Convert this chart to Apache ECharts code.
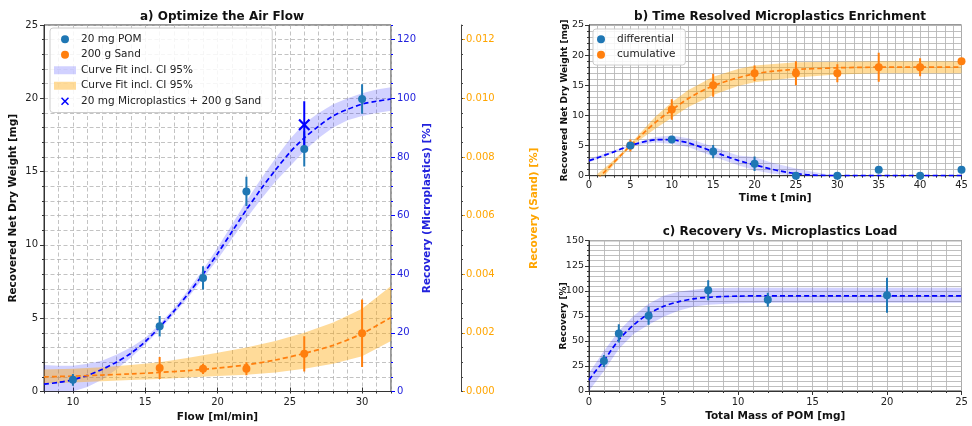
<!DOCTYPE html>
<html><head><meta charset="utf-8">
<script src="https://cdn.jsdelivr.net/npm/echarts@6/dist/echarts.min.js"></script>
<style>html,body{margin:0;padding:0;background:#fff}#c{width:972px;height:426px}</style>
</head><body><div id="c"></div>
<script>
// ---------- Panel a: Optimize the Air Flow ----------
const flowPOM = [10, 16, 19, 22, 26, 30];
const pomMass = [0.8, 4.45, 7.75, 13.65, 16.55, 19.95];
const pomErr = [0.4, 0.7, 0.8, 1.0, 1.2, 1.0];
const flowSand = [16, 19, 22, 26, 30];
const sandMass = [1.6, 1.55, 1.55, 2.57, 3.97];
const sandErr = [0.75, 0.35, 0.45, 1.2, 2.3];
const mixFlow = [26];
const mixMass = [18.2];
const mixErr = [1.6];
const pomFitX = [8,9,10,11,12,13,14,15,16,17,18,19,20,21,22,23,24,25,26,27,28,29,30,31,32];
const pomFit = [0.5,0.62,0.8,1.1,1.5,2.0,2.6,3.4,4.4,5.5,6.7,8.0,9.4,10.9,12.4,13.8,15.1,16.3,17.3,18.1,18.8,19.25,19.6,19.8,19.95];
const pomLo = [0,0,0,0.3,0.8,1.5,2.3,3.2,4.2,5.3,6.45,7.7,9.0,10.4,11.8,13.1,14.3,15.35,16.4,17.3,18.0,18.5,18.8,19.0,19.15];
const pomHi = [1.8,1.75,1.75,1.9,2.1,2.5,3.0,3.65,4.6,5.7,6.95,8.3,9.8,11.4,13.0,14.5,15.9,17.2,18.3,19.0,19.6,20.0,20.35,20.6,20.75];
const sandFitX = [8,10,12,14,16,18,20,22,24,26,28,30,32];
const sandFit = [1.0,1.05,1.12,1.2,1.3,1.43,1.6,1.82,2.15,2.6,3.15,3.95,5.05];
const sandLo = [0.55,0.62,0.7,0.78,0.86,0.95,1.05,1.15,1.3,1.55,1.9,2.4,3.45];
const sandHi = [1.5,1.55,1.65,1.8,2.0,2.3,2.65,3.0,3.45,4.0,4.7,5.65,7.2];
const flowTicks = [10, 15, 20, 25, 30];
const recMicroTicks = [0, 20, 40, 60, 80, 100, 120];
const recSandTicks = [0, 0.002, 0.004, 0.006, 0.008, 0.010, 0.012];

// ---------- Panel b: Time resolved enrichment ----------
const timeX = [5, 10, 15, 20, 25, 30, 35, 40, 45];
const diffVal = [5, 6, 4, 2, 0, 0, 1, 0, 1];
const diffErr = [0.3, 0.5, 1.1, 1.2, 0.2, 0.1, 0.2, 0.1, 0.2];
const cumVal = [5, 11, 15, 17, 17, 17, 18, 18, 19];
const cumErr = [1.0, 1.7, 1.9, 1.3, 2.0, 1.5, 2.4, 1.5, 0.5];
const diffFitX = [0,1,2,3,4,5,6,7,8,9,10,11,12,13,14,15,16,17,18,19,20,21,22,23,24,25,26,27,28,30,35,40,45];
const diffFit = [2.5,2.95,3.45,3.95,4.5,5.0,5.4,5.75,5.95,6.0,5.95,5.75,5.45,5.0,4.5,4.0,3.5,3.0,2.55,2.15,1.8,1.45,1.1,0.8,0.55,0.35,0.2,0.1,0.05,0,0,0,0];
const diffBandX = [0, 5, 8, 10, 12, 15, 18, 20, 22, 25, 28, 30];
const diffLo = [2.2, 4.85, 5.5, 5.25, 4.75, 3.2, 1.75, 0.9, 0.35, 0, 0, 0];
const diffHi = [2.8, 5.15, 6.4, 6.65, 6.2, 4.8, 3.35, 3.1, 2.2, 1.2, 0.4, 0.05];
const cumFitX = [1,2,3,4,5,6,7,8,9,10,11,12,13,14,15,16,17,18,19,20,22,24,26,28,30,35,40,45];
const cumFit = [-0.6,0.8,2.2,3.6,5.0,6.3,7.6,8.8,9.9,10.9,11.9,12.8,13.6,14.3,14.9,15.4,15.85,16.25,16.6,16.9,17.3,17.55,17.7,17.8,17.9,18.0,18.0,18.0];
const cumBandX = [1, 2, 3, 4, 5, 6, 8, 10, 12, 15, 18, 20, 25, 30, 35, 40, 45];
const cumLo = [-1.5, 0.2, 1.8, 3.3, 4.7, 5.8, 7.8, 9.6, 11.4, 13.4, 14.9, 15.5, 16.3, 16.8, 17.0, 17.0, 17.0];
const cumHi = [0.3, 1.4, 2.6, 3.9, 5.3, 6.8, 9.8, 12.2, 14.2, 16.4, 17.7, 18.3, 18.8, 18.9, 19.0, 19.0, 19.0];

// ---------- Panel c: Recovery vs load ----------
const massX = [1, 2, 4, 8, 12, 20];
const recVal = [30, 57.5, 75, 100.5, 91, 95.5];
const recErr = [6, 9, 9, 10, 7, 17.5];
const recFitX = [0,0.5,1,1.5,2,2.5,3,3.5,4,5,6,7,8,9,10,12,15,20,25];
const recFit = [11,21,30,41,51,59,66,72,77,84.5,89,92,93.5,94.3,94.7,95,95,95,95];
const recBandX = [0, 1, 2, 3, 4, 5, 6, 7, 8, 10, 12, 25];
const recLo = [0, 20, 42, 57, 66, 74, 80, 84, 86, 87.5, 88, 88];
const recHi = [18, 40, 60, 75, 87, 95, 99, 101, 102.5, 103, 103, 103];

const FONT = 'DejaVu Sans';
const C_POM = '#1f77b4', C_SAND = '#ff7f0e', C_BLUE = '#0000ff', C_ORANGE = '#ffa500';
const BAND_B = 'rgba(0,0,255,0.18)', BAND_O = 'rgba(255,165,0,0.4)';

function pairs(xs, ys) { return xs.map((x, i) => [x, ys[i]]); }
function band(name, xs, lo, hi, color, xi, yi) {
  return {
    name: name, type: 'custom', coordinateSystem: 'cartesian2d', xAxisIndex: xi, yAxisIndex: yi,
    clip: true, z: 1, silent: true, itemStyle: { color: color },
    data: xs.map((x, i) => [x, lo[i], hi[i]]), encode: { x: 0, y: [1, 2] },
    renderItem: function (p, api) {
      if (p.dataIndex !== 0) return null;
      const top = xs.map((x, i) => api.coord([x, hi[i]]));
      const bot = xs.map((x, i) => api.coord([x, lo[i]])).reverse();
      return { type: 'polygon', shape: { points: top.concat(bot) }, style: { fill: color } };
    }
  };
}
function errs(xs, ys, es, color, xi, yi, w) {
  return {
    type: 'custom', coordinateSystem: 'cartesian2d', xAxisIndex: xi, yAxisIndex: yi, clip: true, z: 3, silent: true,
    data: xs.map((x, i) => [x, ys[i], es[i]]), encode: { x: 0, y: 1 },
    renderItem: function (p, api) {
      const x = api.value(0), y = api.value(1), e = api.value(2);
      const a = api.coord([x, y - e]), b = api.coord([x, y + e]);
      return { type: 'line', shape: { x1: a[0], y1: a[1], x2: b[0], y2: b[1] }, style: { stroke: color, lineWidth: w } };
    }
  };
}
function fit(xs, ys, color, xi, yi) {
  return { type: 'line', xAxisIndex: xi, yAxisIndex: yi, data: pairs(xs, ys), showSymbol: false, smooth: 0.3,
    silent: true, z: 2, lineStyle: { color: color, width: 1.7, type: [5, 3] }, itemStyle: { color: color } };
}
function pts(name, xs, ys, color, xi, yi, sym, size) {
  return { name: name, type: 'scatter', xAxisIndex: xi, yAxisIndex: yi, data: pairs(xs, ys), symbol: sym || 'circle',
    symbolSize: size || 8, z: 4, silent: true, itemStyle: { color: color, opacity: 1 } };
}
const XPATH = 'path://M0,1.3 L1.3,0 L5,3.7 L8.7,0 L10,1.3 L6.3,5 L10,8.7 L8.7,10 L5,6.3 L1.3,10 L0,8.7 L3.7,5 Z';

const labelStyle = { fontFamily: FONT, fontSize: 10, color: '#222' };
const labelStyleSmall = { fontFamily: FONT, fontSize: 9.5, color: '#222' };
const nameStyle = { fontFamily: FONT, fontSize: 10.5, fontWeight: 'bold', color: '#111' };
const nameStyleSmall = { fontFamily: FONT, fontSize: 9, fontWeight: 'bold', color: '#111' };
const axisLineStyle = { show: true, lineStyle: { color: '#333', width: 1 } };
const dashGrid = { show: true, lineStyle: { color: '#b4b4b4', width: 0.8, type: [4, 2.5] } };
const solidGrid = { show: true, lineStyle: { color: '#b8b8b8', width: 0.9 } };

const option = {
  animation: false,
  textStyle: { fontFamily: FONT },
  title: [
    { text: 'a) Optimize the Air Flow', left: 217, top: 6, textAlign: 'center', textStyle: { fontFamily: FONT, fontSize: 12, fontWeight: 'bold', color: '#111' } },
    { text: 'b) Time Resolved Microplastics Enrichment', left: 775, top: 6, textAlign: 'center', textStyle: { fontFamily: FONT, fontSize: 12, fontWeight: 'bold', color: '#111' } },
    { text: 'c) Recovery Vs. Microplastics Load', left: 775, top: 221, textAlign: 'center', textStyle: { fontFamily: FONT, fontSize: 12, fontWeight: 'bold', color: '#111' } }
  ],
  legend: [
    { left: 50, top: 28, orient: 'vertical', itemWidth: 22, itemHeight: 8, itemGap: 3, padding: [5, 11, 5, 4],
      backgroundColor: 'rgba(255,255,255,0.85)', borderColor: '#cccccc', borderWidth: 1, borderRadius: 3,
      textStyle: { fontFamily: FONT, fontSize: 10.5, color: '#222', lineHeight: 12.5 },
      formatter: n => n.replace(/\u200b/g, ''), selectedMode: false,
      data: [
        { name: '20 mg POM', icon: 'circle', itemStyle: { color: C_POM } },
        { name: '200 g Sand', icon: 'circle', itemStyle: { color: C_SAND } },
        { name: 'Curve Fit incl. CI 95%', icon: 'rect', itemStyle: { color: BAND_B } },
        { name: 'Curve Fit incl. CI 95%\u200b', icon: 'rect', itemStyle: { color: BAND_O } },
        { name: '20 mg Microplastics + 200 g Sand', icon: XPATH, itemStyle: { color: C_BLUE } }
      ] },
    { left: 593, top: 29, orient: 'vertical', itemWidth: 22, itemHeight: 8, itemGap: 3, padding: [4, 10, 4, 4],
      backgroundColor: 'rgba(255,255,255,0.85)', borderColor: '#cccccc', borderWidth: 1, borderRadius: 3,
      textStyle: { fontFamily: FONT, fontSize: 10.5, color: '#222', lineHeight: 12.5 }, selectedMode: false,
      data: [
        { name: 'differential', icon: 'circle', itemStyle: { color: C_POM } },
        { name: 'cumulative', icon: 'circle', itemStyle: { color: C_SAND } }
      ] }
  ],
  grid: [
    { left: 44, top: 25, width: 347, height: 366.5, show: true, borderColor: '#333', borderWidth: 1, outerBoundsMode: 'none', containLabel: false },
    { left: 589, top: 25, width: 372.5, height: 150.7, show: true, borderColor: '#333', borderWidth: 1, outerBoundsMode: 'none', containLabel: false },
    { left: 589, top: 240.7, width: 372.5, height: 150.3, show: true, borderColor: '#333', borderWidth: 1, outerBoundsMode: 'none', containLabel: false }
  ],
  xAxis: [
    { gridIndex: 0, type: 'value', min: 8, max: 32, interval: 1, axisLine: axisLineStyle,
      axisTick: { length: 2, lineStyle: { color: '#333' } },
      axisLabel: Object.assign({ margin: 6, formatter: v => (v % 5 === 0 ? String(v) : '') }, labelStyle),
      splitLine: dashGrid,
      name: 'Flow [ml/min]', nameLocation: 'middle', nameGap: 20, nameMoveOverlap: false, nameTextStyle: nameStyle },
    { gridIndex: 1, type: 'value', min: 0, max: 45, interval: 5, axisLine: axisLineStyle,
      axisTick: { length: 4, lineStyle: { color: '#333' } }, minorTick: { show: true, splitNumber: 5, length: 2 },
      axisLabel: Object.assign({ margin: 5 }, labelStyle),
      splitLine: solidGrid, minorSplitLine: solidGrid,
      name: 'Time t [min]', nameLocation: 'middle', nameGap: 17, nameMoveOverlap: false, nameTextStyle: nameStyle },
    { gridIndex: 2, type: 'value', min: 0, max: 25, interval: 5, axisLine: axisLineStyle,
      axisTick: { length: 4, lineStyle: { color: '#333' } }, minorTick: { show: true, splitNumber: 5, length: 2 },
      axisLabel: Object.assign({ margin: 6 }, labelStyle),
      splitLine: solidGrid, minorSplitLine: solidGrid,
      name: 'Total Mass of POM [mg]', nameLocation: 'middle', nameGap: 20, nameMoveOverlap: false, nameTextStyle: nameStyle },
    { gridIndex: 0, type: 'value', min: 8, max: 32, axisLine: { show: false },
      axisTick: { show: true, length: 4, customValues: flowTicks, lineStyle: { color: '#333' } },
      axisLabel: { show: false }, splitLine: { show: false } }
  ],
  yAxis: [
    { gridIndex: 0, type: 'value', min: 0, max: 25, interval: 5, position: 'left', axisLine: axisLineStyle,
      axisTick: { length: 4, lineStyle: { color: '#333' } }, minorTick: { show: true, splitNumber: 5, length: 2 },
      axisLabel: Object.assign({ margin: 6 }, labelStyle),
      splitLine: dashGrid, minorSplitLine: dashGrid,
      name: 'Recovered Net Dry Weight [mg]', nameLocation: 'middle', nameGap: 25, nameRotate: 90, nameMoveOverlap: false, nameTextStyle: nameStyle },
    { gridIndex: 0, type: 'value', min: 0, max: 125, position: 'right', axisLine: { show: false },
      axisTick: { length: 4, customValues: recMicroTicks, lineStyle: { color: C_BLUE } },
      axisLabel: { customValues: recMicroTicks, margin: 6, fontFamily: FONT, fontSize: 10, color: '#2222dd' },
      splitLine: { show: false },
      name: 'Recovery (Microplastics) [%]', nameLocation: 'middle', nameGap: 31, nameRotate: 90, nameMoveOverlap: false,
      nameTextStyle: { fontFamily: FONT, fontSize: 10.5, fontWeight: 'bold', color: '#2222dd' } },
    { gridIndex: 0, type: 'value', min: 0, max: 125, interval: 5, position: 'right', axisLine: { show: false },
      axisTick: { length: 2, lineStyle: { color: C_BLUE } }, axisLabel: { show: false }, splitLine: { show: false } },
    { gridIndex: 0, type: 'value', min: 0, max: 0.0125, position: 'right', offset: 70,
      axisLine: { show: true, lineStyle: { color: '#444', width: 1 } },
      axisTick: { length: 4, customValues: recSandTicks, lineStyle: { color: C_ORANGE } },
      axisLabel: { customValues: recSandTicks, margin: 5, fontFamily: FONT, fontSize: 10, color: C_ORANGE, formatter: v => v.toFixed(3) },
      splitLine: { show: false },
      name: 'Recovery (Sand) [%]', nameLocation: 'middle', nameGap: 68, nameRotate: 90, nameMoveOverlap: false,
      nameTextStyle: { fontFamily: FONT, fontSize: 10.5, fontWeight: 'bold', color: C_ORANGE } },
    { gridIndex: 0, type: 'value', min: 0, max: 0.0125, interval: 0.0005, position: 'right', offset: 70, axisLine: { show: false },
      axisTick: { length: 2, lineStyle: { color: '#444' } }, axisLabel: { show: false }, splitLine: { show: false } },
    { gridIndex: 1, type: 'value', min: 0, max: 25, interval: 5, axisLine: axisLineStyle,
      axisTick: { length: 4, lineStyle: { color: '#333' } }, minorTick: { show: true, splitNumber: 5, length: 2 },
      axisLabel: Object.assign({ margin: 5 }, labelStyleSmall),
      splitLine: solidGrid, minorSplitLine: solidGrid,
      name: 'Recovered Net Dry Weight [mg]', nameLocation: 'middle', nameGap: 20, nameRotate: 90, nameMoveOverlap: false, nameTextStyle: nameStyleSmall },
    { gridIndex: 2, type: 'value', min: 0, max: 150, interval: 25, axisLine: axisLineStyle,
      axisTick: { length: 4, lineStyle: { color: '#333' } }, minorTick: { show: true, splitNumber: 5, length: 2 },
      axisLabel: Object.assign({ margin: 5 }, labelStyleSmall),
      splitLine: solidGrid, minorSplitLine: solidGrid,
      name: 'Recovery [%]', nameLocation: 'middle', nameGap: 21, nameRotate: 90, nameMoveOverlap: false, nameTextStyle: nameStyleSmall }
  ],
  series: [
    // panel a
    band('Curve Fit incl. CI 95%', pomFitX, pomLo, pomHi, BAND_B, 0, 0),
    band('Curve Fit incl. CI 95%\u200b', sandFitX, sandLo, sandHi, BAND_O, 0, 0),
    fit(pomFitX, pomFit, C_BLUE, 0, 0),
    fit(sandFitX, sandFit, C_SAND, 0, 0),
    errs(flowPOM, pomMass, pomErr, C_POM, 0, 0, 2),
    errs(flowSand, sandMass, sandErr, C_SAND, 0, 0, 2),
    errs(mixFlow, mixMass, mixErr, C_BLUE, 0, 0, 2),
    pts('20 mg POM', flowPOM, pomMass, C_POM, 0, 0),
    pts('200 g Sand', flowSand, sandMass, C_SAND, 0, 0),
    pts('20 mg Microplastics + 200 g Sand', mixFlow, mixMass, C_BLUE, 0, 0, XPATH, 12),
    // panel b
    band('bandCum', cumBandX, cumLo, cumHi, BAND_O, 1, 5),
    band('bandDiff', diffBandX, diffLo, diffHi, 'rgba(0,0,255,0.15)', 1, 5),
    fit(cumFitX, cumFit, C_SAND, 1, 5),
    fit(diffFitX, diffFit, C_BLUE, 1, 5),
    errs(timeX, cumVal, cumErr, C_SAND, 1, 5, 2),
    errs(timeX, diffVal, diffErr, C_POM, 1, 5, 2),
    Object.assign(pts('cumulative', timeX, cumVal, C_SAND, 1, 5), { clip: false }),
    Object.assign(pts('differential', timeX, diffVal, C_POM, 1, 5), { clip: false }),
    // panel c
    band('bandRec', recBandX, recLo, recHi, BAND_B, 2, 6),
    fit(recFitX, recFit, C_BLUE, 2, 6),
    errs(massX, recVal, recErr, C_POM, 2, 6, 2),
    pts('recovery', massX, recVal, C_POM, 2, 6)
  ]
};
const chart = echarts.init(document.getElementById('c'), null, { renderer: 'canvas' });
chart.setOption(option);
</script>
</body></html>
